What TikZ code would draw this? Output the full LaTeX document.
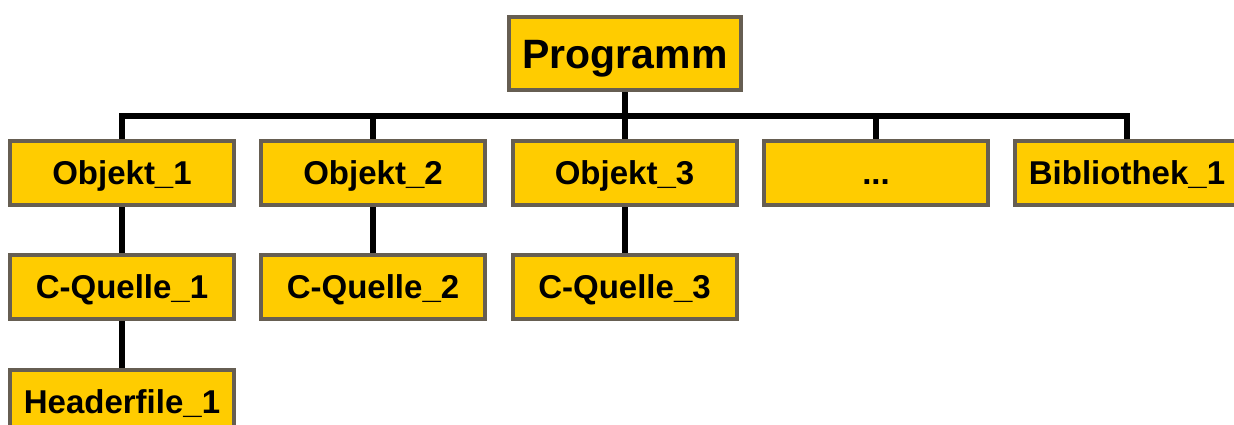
\documentclass[tikz,border=0pt]{standalone}
\usepackage{fontspec}
\setmainfont{Liberation Sans}
\usetikzlibrary{backgrounds}
\definecolor{boxfill}{HTML}{FFCC00}
\definecolor{boxline}{HTML}{665E52}
\begin{document}
\begin{tikzpicture}[x=1pt,y=-1pt,
  unit/.style={draw=boxline, fill=boxfill, line width=4pt, inner sep=0pt,
    minimum width=224pt, minimum height=64pt,
    text height=23.6pt, text depth=0pt,
    font=\fontsize{33}{36}\selectfont\bfseries},
  topunit/.style={unit, minimum width=232pt, minimum height=73pt,
    text height=29.4pt,
    font=\fontsize{41}{44}\selectfont\bfseries},
  link/.style={draw=black, line width=6pt, line join=miter}]
\useasboundingbox (0,0) rectangle (1234,425);
\clip (0,0) rectangle (1234,425);

% program root
\node[topunit] (prog) at (625,53.5) {Programm};

% object and library level
\node[unit] (o1) at (122,173) {Objekt\_1};
\node[unit] (o2) at (373,173) {Objekt\_2};
\node[unit] (o3) at (624.5,173) {Objekt\_3};
\node[unit] (odots) at (876,173) {...};
\node[unit] (lib1) at (1127,173) {Bibliothek\_1};

% sources
\node[unit] (c1) at (122,287) {C-Quelle\_1};
\node[unit] (c2) at (373,287) {C-Quelle\_2};
\node[unit] (c3) at (624.5,287) {C-Quelle\_3};

% header
\node[unit] (h1) at (122,402) {Headerfile\_1};

\coordinate (bus) at (625,116);

\begin{scope}[on background layer]
  \draw[link] (prog.south) -- (bus);
  \draw[link] (o1.north) |- (bus);
  \draw[link] (o2.north) |- (bus);
  \draw[link] (o3.north) |- (bus);
  \draw[link] (odots.north) |- (bus);
  \draw[link] (lib1.north) |- (bus);
  \draw[link] (o1.south) -- (c1.north);
  \draw[link] (o2.south) -- (c2.north);
  \draw[link] (o3.south) -- (c3.north);
  \draw[link] (c1.south) -- (h1.north);
\end{scope}
\end{tikzpicture}
\end{document}
